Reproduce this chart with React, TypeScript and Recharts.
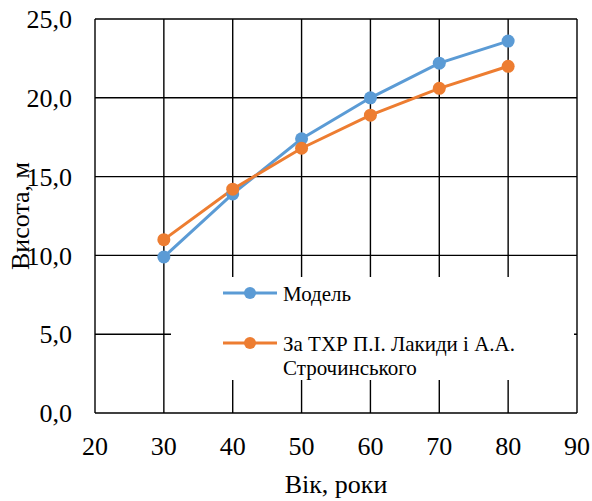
import React from 'react';
import {
  LineChart,
  Line,
  XAxis,
  YAxis,
  CartesianGrid,
  Legend,
  Label,
} from 'recharts';

const ages = [30, 40, 50, 60, 70, 80];
const modelHeights = [9.9, 13.9, 17.4, 20.0, 22.2, 23.6];
const tableHeights = [11.0, 14.2, 16.8, 18.9, 20.6, 22.0];
const xTicks = [20, 30, 40, 50, 60, 70, 80, 90];
const yTicks = [0, 5, 10, 15, 20, 25];

const BLUE = '#5B9BD5';
const ORANGE = '#ED7D31';
const FONT = "'Liberation Serif', serif";

const data = ages.map((age, i) => ({
  age,
  model: modelHeights[i],
  table: tableHeights[i],
}));

const fmt = (v: number) => v.toFixed(1).replace('.', ',');

// legend entries: colour + text lines (second entry wraps onto two lines)
const legendItems = [
  { color: BLUE, lines: ['Модель'], y: 16 },
  { color: ORANGE, lines: ['За ТХР П.І. Лакиди і А.А.', 'Строчинського'], y: 66 },
];

function ChartLegend() {
  return (
    <svg width={403} height={103} style={{ display: 'block' }}>
      <rect x={0} y={0} width={403} height={103} fill="#fff" />
      {legendItems.map((item) => (
        <g key={item.color}>
          <line x1={52} y1={item.y} x2={106} y2={item.y} stroke={item.color} strokeWidth={3} />
          <circle cx={79} cy={item.y} r={6} fill={item.color} />
          <text x={112} y={item.y + 8} fontFamily={FONT} fontSize={21} fill="#000">
            {item.lines.map((ln, i) => (
              <tspan key={i} x={112} dy={i === 0 ? 0 : 24}>
                {ln}
              </tspan>
            ))}
          </text>
        </g>
      ))}
    </svg>
  );
}

export default function App() {
  const tick = { fill: '#000', fontSize: 26, fontFamily: FONT };
  return (
    <div style={{ position: 'absolute', left: 0, top: 0, background: '#fff' }}>
      <LineChart
        width={592}
        height={501}
        data={data}
        margin={{ top: 19, right: 15, left: 0, bottom: 0 }}
      >
        <CartesianGrid stroke="#000" strokeWidth={1.4} />
        <XAxis
          dataKey="age"
          type="number"
          domain={[20, 90]}
          ticks={xTicks}
          height={88}
          axisLine={false}
          tickLine={false}
          tickSize={0}
          tickMargin={24}
          tick={tick}
        >
          <Label
            value="Вік, роки"
            position="insideBottom"
            offset={8}
            style={{ fill: '#000', fontSize: 26, fontFamily: FONT }}
          />
        </XAxis>
        <YAxis
          type="number"
          domain={[0, 25]}
          ticks={yTicks}
          width={95}
          axisLine={false}
          tickLine={false}
          tickSize={0}
          tickMargin={23}
          tickFormatter={fmt}
          tick={tick}
        >
          <Label
            content={() => (
              <text
                x={29}
                y={216}
                transform="rotate(-90 29 216)"
                textAnchor="middle"
                fill="#000"
                fontSize={26}
                fontFamily={FONT}
              >
                Висота, м
              </text>
            )}
          />
        </YAxis>
        <Legend
          layout="vertical"
          align="center"
          verticalAlign="middle"
          content={() => <ChartLegend />}
          wrapperStyle={{ left: 171, top: 277, width: 403, height: 103 }}
        />
        <Line
          dataKey="model"
          name="Модель"
          stroke={BLUE}
          strokeWidth={3}
          dot={{ r: 6.5, fill: BLUE, stroke: BLUE, strokeWidth: 0 }}
          isAnimationActive={false}
        />
        <Line
          dataKey="table"
          name="За ТХР П.І. Лакиди і А.А. Строчинського"
          stroke={ORANGE}
          strokeWidth={3}
          dot={{ r: 6.5, fill: ORANGE, stroke: ORANGE, strokeWidth: 0 }}
          isAnimationActive={false}
        />
      </LineChart>
    </div>
  );
}
